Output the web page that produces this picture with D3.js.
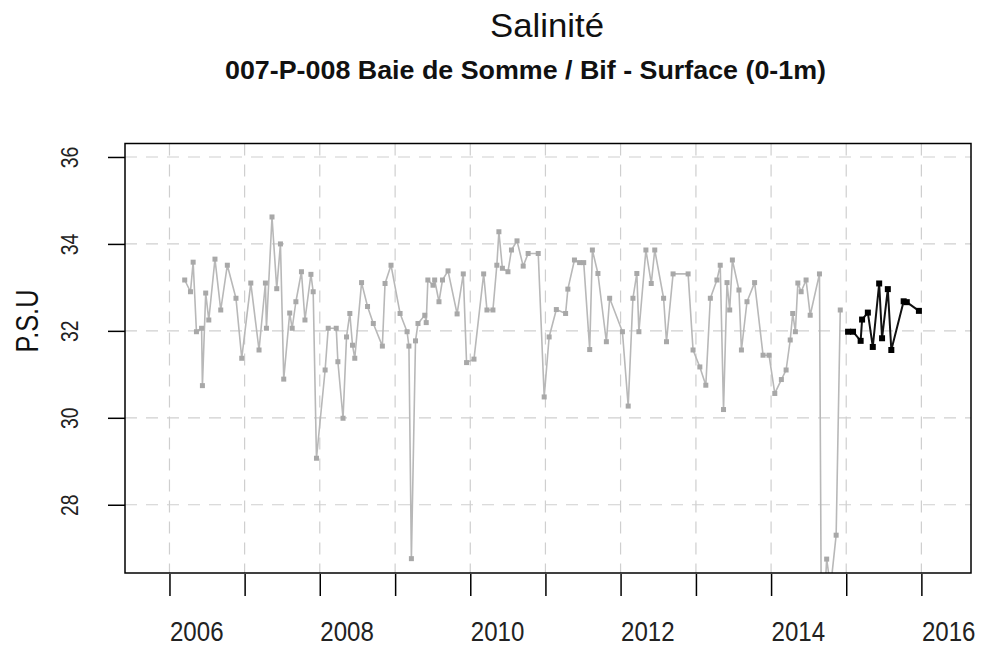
<!DOCTYPE html>
<html>
<head>
<meta charset="utf-8">
<script src="https://cdn.jsdelivr.net/npm/d3@7"></script>
<style>
  body { margin: 0; background: #fff; }
  svg { display: block; }
  text { font-family: "Liberation Sans", Arial, sans-serif; }
  .narrow { font-family: "Liberation Sans Narrow", "Liberation Sans", Arial, sans-serif; }
</style>
</head>
<body>
<svg id="chart" width="983" height="650"></svg>
<script>
// Salinity at station 007-P-008, surface layer: earlier years (grey) and current year (black)
const historyDates = [
  "2006-03-16","2006-04-13","2006-04-26","2006-05-12","2006-06-06","2006-06-10","2006-06-26","2006-07-11",
  "2006-08-10","2006-09-07","2006-10-09","2006-11-20","2006-12-18","2007-01-31","2007-03-12","2007-04-12",
  "2007-04-17","2007-05-14","2007-06-06","2007-06-24","2007-07-10","2007-08-08","2007-08-20","2007-09-07",
  "2007-10-04","2007-10-21","2007-11-19","2007-11-30","2007-12-16","2008-01-27","2008-02-11","2008-03-21",
  "2008-03-29","2008-04-23","2008-05-10","2008-05-26","2008-06-08","2008-06-19","2008-07-22","2008-08-20",
  "2008-09-17","2008-10-31","2008-11-13","2008-12-12","2009-01-25","2009-02-28","2009-03-09","2009-03-21",
  "2009-04-10","2009-04-22","2009-05-25","2009-06-01","2009-06-09","2009-07-04","2009-07-12","2009-08-02",
  "2009-08-19","2009-09-15","2009-10-29","2009-11-28","2009-12-14","2010-01-19","2010-03-07","2010-03-23",
  "2010-04-21","2010-05-10","2010-05-20","2010-06-06","2010-07-03","2010-07-20","2010-08-16","2010-09-15",
  "2010-10-09","2010-11-27","2010-12-26","2011-01-19","2011-02-23","2011-04-09","2011-04-20","2011-05-22",
  "2011-06-16","2011-07-06","2011-08-04","2011-08-17","2011-09-13","2011-10-24","2011-11-09","2012-01-10",
  "2012-02-07","2012-03-01","2012-03-20","2012-03-30","2012-05-03","2012-05-29","2012-06-15","2012-07-28",
  "2012-08-11","2012-09-12","2012-11-24","2012-12-18","2013-01-20","2013-02-18","2013-03-12","2013-04-13",
  "2013-04-29","2013-05-15","2013-06-01","2013-06-14","2013-06-27","2013-07-29","2013-08-10","2013-09-06",
  "2013-10-13","2013-11-23","2013-12-22","2014-01-19","2014-02-20","2014-03-15","2014-04-04","2014-04-16",
  "2014-04-29","2014-05-11","2014-05-27","2014-06-20","2014-07-10","2014-08-24","2014-09-03","2014-09-28",
  "2014-10-17","2014-11-13","2014-12-03"
];
const historyValues = [
  33.17,32.90,33.58,31.98,32.06,30.74,32.87,32.25,
  33.65,32.48,33.51,32.75,31.37,33.10,31.56,33.10,
  32.06,34.62,32.97,34.00,30.89,32.41,32.06,32.67,
  33.36,32.25,33.30,32.90,29.07,31.10,32.06,32.06,
  31.29,29.99,31.86,32.40,31.67,31.37,33.11,32.56,
  32.17,31.65,33.09,33.51,32.40,31.98,31.65,26.76,
  31.77,32.17,32.36,32.19,33.17,33.05,33.17,32.67,
  33.17,33.38,32.39,33.31,31.27,31.35,33.31,32.48,
  32.48,33.51,34.28,33.44,33.36,33.86,34.07,33.49,
  33.78,33.78,30.48,31.86,32.49,32.40,32.96,33.63,
  33.57,33.57,31.57,33.86,33.32,31.75,32.75,31.98,
  30.27,32.75,33.32,31.98,33.86,33.09,33.86,32.75,
  31.75,33.31,33.31,31.56,31.17,30.75,32.75,33.17,
  33.51,30.19,33.11,32.48,33.63,32.94,31.56,32.67,
  33.11,31.44,31.44,30.56,30.88,31.10,31.79,32.40,
  31.98,33.10,32.90,33.17,32.36,33.31,24.50,26.75,
  26.10,27.30,32.48
];
const currentDates = [
  "2015-01-10","2015-02-03","2015-03-12","2015-03-19","2015-04-16","2015-05-10","2015-06-10",
  "2015-06-24","2015-07-22","2015-08-08","2015-10-07","2015-10-22","2015-12-20"
];
const currentValues = [
  31.98,31.98,31.77,32.26,32.42,31.63,33.09,
  31.83,32.96,31.56,32.68,32.66,32.46
];
const yTickValues = [28, 30, 32, 34, 36];
const yearTickValues = [2006, 2007, 2008, 2009, 2010, 2011, 2012, 2013, 2014, 2015, 2016];
const yearLabelValues = [2006, 2008, 2010, 2012, 2014, 2016];

const titleText = "Salinité";
const subtitleText = "007-P-008 Baie de Somme / Bif - Surface (0-1m)";
const yTitleText = "P.S.U";

const parse = d3.timeParse("%Y-%m-%d");
const svg = d3.select("#chart");
const box = { left: 125, right: 971, top: 143.5, bottom: 573 };

const x = d3.scaleTime()
  .domain([parse("2005-05-30"), parse("2016-08-29")])
  .range([box.left, box.right]);
const y = d3.scaleLinear()
  .domain([26.43, 36.31])
  .range([box.bottom, box.top]);

const yearDates = yearTickValues.map(yr => new Date(yr, 0, 1));

// dashed reference grid
const grid = svg.append("g")
  .attr("stroke", "#cfcfcf")
  .attr("stroke-width", 1.2)
  .attr("stroke-dasharray", "12,9");
grid.selectAll("line.v").data(yearDates).join("line")
  .attr("class", "v")
  .attr("x1", d => x(d)).attr("x2", d => x(d))
  .attr("y1", box.top).attr("y2", box.bottom);
grid.selectAll("line.h").data(yTickValues).join("line")
  .attr("class", "h")
  .attr("x1", box.left).attr("x2", box.right)
  .attr("y1", d => y(d)).attr("y2", d => y(d));

// clip data to the plotting region
svg.append("defs").append("clipPath").attr("id", "plotClip")
  .append("rect")
  .attr("x", box.left).attr("y", box.top)
  .attr("width", box.right - box.left).attr("height", box.bottom - box.top);

const line = d3.line().x(d => x(d.date)).y(d => y(d.value));

function drawSeries(dates, values, lineColor, pointColor, lineWidth, size) {
  const pts = dates.map((d, i) => ({ date: parse(d), value: values[i] }));
  const g = svg.append("g").attr("clip-path", "url(#plotClip)");
  g.append("path").datum(pts)
    .attr("fill", "none")
    .attr("stroke", lineColor)
    .attr("stroke-width", lineWidth)
    .attr("stroke-linejoin", "round")
    .attr("d", line);
  g.selectAll("rect").data(pts).join("rect")
    .attr("x", d => x(d.date) - size / 2)
    .attr("y", d => y(d.value) - size / 2)
    .attr("width", size).attr("height", size)
    .attr("fill", pointColor);
}

drawSeries(historyDates, historyValues, "#b8b8b8", "#a8a8a8", 1.6, 5);
drawSeries(currentDates, currentValues, "#111", "#000", 2, 6);

// plot frame
svg.append("rect")
  .attr("x", box.left).attr("y", box.top)
  .attr("width", box.right - box.left).attr("height", box.bottom - box.top)
  .attr("fill", "none").attr("stroke", "#000").attr("stroke-width", 1.5);

// x axis: a tick every year, labels on even years placed to the right of their tick
const xAxis = svg.append("g")
  .attr("transform", `translate(0,${box.bottom})`)
  .call(d3.axisBottom(x)
    .tickValues(yearDates)
    .tickSize(23)
    .tickFormat(d => yearLabelValues.includes(d.getFullYear()) ? String(d.getFullYear()) : ""));
xAxis.select(".domain").remove();
xAxis.selectAll(".tick line").attr("stroke", "#000").attr("stroke-width", 1.5).attr("y1", 1);
xAxis.selectAll(".tick text")
  .attr("fill", "#222")
  .attr("font-size", 28)
  .attr("text-anchor", "start")
  .attr("x", 0)
  .attr("y", 0)
  .attr("dy", null)
  .attr("transform", "translate(0,68) scale(0.86,1)");

// y axis
const yAxis = svg.append("g")
  .attr("transform", `translate(${box.left},0)`)
  .call(d3.axisLeft(y).tickValues(yTickValues).tickSize(17));
yAxis.select(".domain").remove();
yAxis.selectAll(".tick line").attr("stroke", "#000").attr("stroke-width", 1.5);
yAxis.selectAll(".tick text")
  .attr("class", "narrow")
  .attr("fill", "#222")
  .attr("font-size", 23.3)
  .attr("text-anchor", "middle")
  .attr("transform", "rotate(-90)")
  .attr("x", 0)
  .attr("y", -47)
  .attr("dy", null)
  .attr("textLength", 21.5)
  .attr("lengthAdjust", "spacingAndGlyphs");

// axis title
svg.append("text")
  .attr("class", "narrow")
  .attr("transform", "translate(38,321) rotate(-90)")
  .attr("text-anchor", "middle")
  .attr("font-size", 31)
  .attr("fill", "#111")
  .attr("textLength", 63)
  .attr("lengthAdjust", "spacingAndGlyphs")
  .text(yTitleText);

// titles
svg.append("text")
  .attr("x", 547).attr("y", 37)
  .attr("text-anchor", "middle")
  .attr("font-size", 33.5)
  .attr("fill", "#111")
  .attr("textLength", 114)
  .attr("lengthAdjust", "spacingAndGlyphs")
  .text(titleText);
svg.append("text")
  .attr("x", 525.5).attr("y", 79)
  .attr("text-anchor", "middle")
  .attr("font-size", 26.5)
  .attr("font-weight", "bold")
  .attr("fill", "#111")
  .attr("textLength", 601)
  .attr("lengthAdjust", "spacingAndGlyphs")
  .text(subtitleText);
</script>
</body>
</html>
